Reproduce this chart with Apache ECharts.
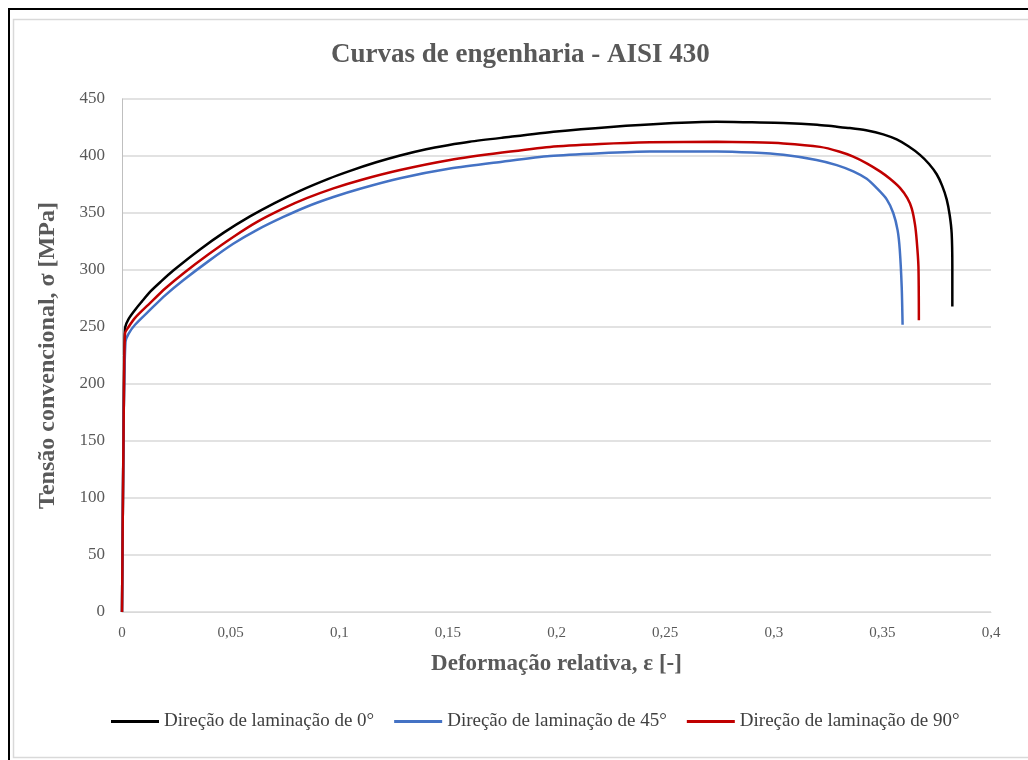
<!DOCTYPE html>
<html>
<head>
<meta charset="utf-8">
<script src="https://cdn.jsdelivr.net/npm/echarts@6/dist/echarts.min.js"></script>
<style>
  html, body { margin: 0; padding: 0; background: #fff; }
  #chart { width: 1028px; height: 760px; }
</style>
</head>
<body>
<div id="chart"></div>
<script>
// Engineering stress-strain curves, AISI 430, three rolling directions
const seriesNames = [
  'Direção de laminação de 0°',
  'Direção de laminação de 45°',
  'Direção de laminação de 90°'
];

// 0° direction
const strain0 = [0, 0.0003, 0.0008, 0.0012, 0.0015, 0.003, 0.006, 0.009, 0.013, 0.018, 0.0236, 0.0359, 0.047, 0.0589, 0.07, 0.0819, 0.095, 0.105, 0.117, 0.128, 0.14, 0.15, 0.16, 0.175, 0.2, 0.225, 0.25, 0.2737, 0.29, 0.3044, 0.32, 0.3274, 0.335, 0.3425, 0.3504, 0.3566, 0.362, 0.3673, 0.3715, 0.375, 0.3775, 0.3796, 0.381, 0.3819, 0.3822, 0.3822];
const stress0 = [0, 70, 175, 238, 250, 257, 265, 272, 281, 290, 299.5, 318, 333, 347, 358.5, 369.5, 380, 387, 394.5, 400.5, 406, 409.5, 412.5, 416, 421.5, 425.5, 428.5, 430, 429.5, 429, 427.5, 426, 424.5, 422.5, 419, 414.5, 408.5, 401, 393, 384, 374, 362, 348, 332, 303, 268];

// 45° direction
const strain45 = [0, 0.0003, 0.0008, 0.0016, 0.003, 0.006, 0.0129, 0.02, 0.0282, 0.04, 0.0512, 0.062, 0.0743, 0.085, 0.0973, 0.11, 0.128, 0.151, 0.175, 0.197, 0.22, 0.243, 0.2737, 0.29, 0.3044, 0.3197, 0.329, 0.3366, 0.3428, 0.3473, 0.352, 0.355, 0.357, 0.358, 0.3589, 0.3593];
const stress45 = [0, 70, 175, 237, 244, 252, 265, 278, 291, 308, 323, 335, 346.5, 355.5, 364, 371.5, 380.5, 389, 395, 400, 402.5, 404, 404, 403, 401, 396.5, 392, 386.5, 380, 372, 362, 350, 335, 318, 285, 252];

// 90° direction
const strain90 = [0, 0.0003, 0.0008, 0.0014, 0.003, 0.006, 0.0129, 0.02, 0.0282, 0.04, 0.0512, 0.062, 0.0743, 0.085, 0.0973, 0.11, 0.128, 0.151, 0.175, 0.197, 0.22, 0.243, 0.2737, 0.29, 0.3044, 0.3213, 0.33, 0.3366, 0.3428, 0.3489, 0.3535, 0.3581, 0.3615, 0.3635, 0.365, 0.3658, 0.3666, 0.3668];
const stress90 = [0, 70, 175, 244.5, 250, 258, 271, 284, 297, 314, 329, 342, 354, 363, 371.6, 379, 387.7, 396.5, 403, 408, 410.5, 412, 412.5, 412, 411, 408, 404, 399.5, 393.6, 386.5, 380, 372, 363, 354, 340, 326, 303, 256];

const seriesColors = ['#000000', '#4472C4', '#C00000'];

const pairs = (xs, ys) => xs.map((x, i) => [x, ys[i]]);
const curves = [pairs(strain0, stress0), pairs(strain45, stress45), pairs(strain90, stress90)];

const font = '"Liberation Serif", "Times New Roman", serif';
const grey = '#595959';

const chart = echarts.init(document.getElementById('chart'), null, { renderer: 'canvas' });

chart.setOption({
  backgroundColor: '#ffffff',
  animation: false,
  graphic: [
    { type: 'rect', shape: { x: 9, y: 9, width: 1100, height: 800 },
      style: { fill: 'none', stroke: '#000000', lineWidth: 2 } },
    { type: 'rect', shape: { x: 13.5, y: 19.5, width: 1100, height: 738 },
      style: { fill: 'none', stroke: '#d9d9d9', lineWidth: 1.5 } }
  ],
  title: {
    text: 'Curvas de engenharia - AISI 430',
    left: 326,
    top: 37,
    textStyle: { fontFamily: font, fontSize: 27, fontWeight: 'bold', color: grey }
  },
  legend: {
    data: seriesNames,
    bottom: 24,
    left: 106,
    icon: 'rect',
    itemWidth: 48,
    itemHeight: 3,
    itemGap: 20,
    textStyle: { fontFamily: font, fontSize: 19, color: '#404040' }
  },
  grid: { left: 122, right: 37, top: 99, bottom: 148 },
  xAxis: {
    type: 'value',
    min: 0,
    max: 0.4,
    interval: 0.05,
    name: 'Deformação relativa, ε [-]',
    nameLocation: 'middle',
    nameGap: 41,
    nameTextStyle: { fontFamily: font, fontSize: 23, fontWeight: 'bold', color: grey },
    axisLine: { show: true, lineStyle: { color: '#d9d9d9', width: 1 } },
    axisTick: { show: false },
    axisLabel: {
      fontFamily: font, fontSize: 15, color: grey, margin: 14,
      formatter: v => String(+v.toFixed(2)).replace('.', ',')
    },
    splitLine: { show: false }
  },
  yAxis: {
    type: 'value',
    min: 0,
    max: 450,
    interval: 50,
    name: 'Tensão convencional, σ [MPa]',
    nameLocation: 'middle',
    nameGap: 62,
    nameTextStyle: { fontFamily: font, fontSize: 24, fontWeight: 'bold', color: grey },
    axisLine: { show: true, lineStyle: { color: '#bfbfbf', width: 1 } },
    axisTick: { show: false },
    axisLabel: { fontFamily: font, fontSize: 17, color: grey, margin: 17 },
    splitLine: { show: true, lineStyle: { color: '#d9d9d9', width: 1.5 } }
  },
  series: curves.map((data, i) => ({
    name: seriesNames[i],
    type: 'line',
    data: data,
    showSymbol: false,
    smooth: 0.25,
    lineStyle: { color: seriesColors[i], width: 2.5 },
    itemStyle: { color: seriesColors[i] },
    z: 2 + i
  }))
});
</script>
</body>
</html>
